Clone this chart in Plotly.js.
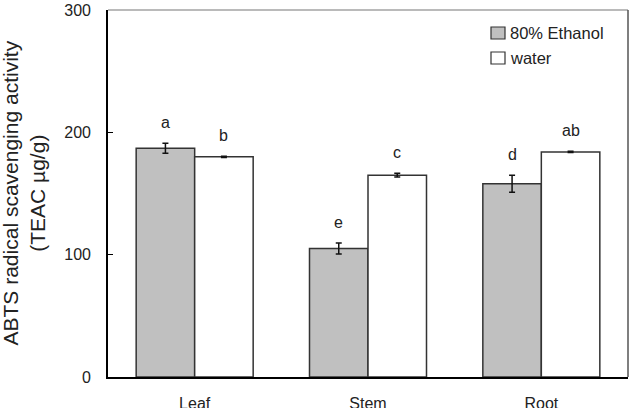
<!DOCTYPE html>
<html>
<head>
<meta charset="utf-8">
<script src="https://cdn.plot.ly/plotly-3.0.1.min.js"></script>
<style>
  html, body { margin: 0; padding: 0; background: #fff; }
  #chart { width: 632px; height: 408px; }
</style>
</head>
<body>
<div id="chart"></div>
<script>
// Plant parts analysed
const parts = ['Leaf', 'Stem', 'Root'];

// ABTS scavenging activity, TEAC µg/g (mean and error)
const ethanolValues = [187, 105, 158];
const ethanolErrors = [4, 4.5, 7];
const waterValues = [180, 165, 184];
const waterErrors = [0.5, 1.5, 0.5];

// Significance letters
const ethanolLetters = ['a', 'e', 'd'];
const waterLetters = ['b', 'c', 'ab'];

// Series names
const seriesNames = ['80% Ethanol', 'water'];

const FONT = 'Liberation Sans, Arial, Helvetica, sans-serif';
const TEXT = '#222222';
const ETHANOL_FILL = '#c0c0c0';
const WATER_FILL = '#ffffff';
const EDGE = '#333333';
const BARGAP = 0.325;
const HALF = (1 - BARGAP) / 4; // offset of each bar centre from its category centre

function barTrace(name, values, errors, fill) {
  return {
    type: 'bar',
    name: name,
    x: parts,
    y: values,
    marker: { color: fill, line: { color: EDGE, width: 1.5 } },
    error_y: { type: 'data', array: errors, visible: true, color: '#111', thickness: 1.5, width: 3 },
    showlegend: false,
    hoverinfo: 'x+y'
  };
}

const traces = [
  barTrace(seriesNames[0], ethanolValues, ethanolErrors, ETHANOL_FILL),
  barTrace(seriesNames[1], waterValues, waterErrors, WATER_FILL)
];

// Letters above each bar, placed at the top of its error bar
const annotations = [];
function addLetters(letters, values, errors, offset) {
  letters.forEach((t, i) => {
    annotations.push({
      x: i + offset, y: values[i] + errors[i], xref: 'x', yref: 'y',
      text: t, showarrow: false, yanchor: 'bottom', yshift: 10,
      font: { family: FONT, size: 16, color: TEXT }
    });
  });
}
addLetters(ethanolLetters, ethanolValues, ethanolErrors, -HALF);
addLetters(waterLetters, waterValues, waterErrors, HALF);

// Plot area in pixels, used to place the legend and the frame
const PLOT_L = 108, PLOT_W = 520, PLOT_T = 10, PLOT_H = 367;
const px = v => (v - PLOT_L) / PLOT_W;
const py = v => (PLOT_T + PLOT_H - v) / PLOT_H;

// Legend: swatch + label for each series, in the upper right corner
const legendFills = [ETHANOL_FILL, WATER_FILL];
const shapes = [];
seriesNames.forEach((name, k) => {
  const yc = 33 + k * 25; // row centre, px from the top of the figure
  shapes.push({
    type: 'rect', xref: 'paper', yref: 'paper',
    x0: px(491), x1: px(505), y0: py(yc + 6), y1: py(yc - 6),
    fillcolor: legendFills[k], line: { color: EDGE, width: 1.2 }
  });
  annotations.push({
    xref: 'paper', yref: 'paper', x: px(508), y: py(yc),
    xanchor: 'left', yanchor: 'middle', showarrow: false,
    text: name, font: { family: FONT, size: 16.5, color: TEXT }
  });
});

// Top and right edges of the frame, lighter than the axes
shapes.push({ type: 'line', xref: 'paper', yref: 'paper', x0: 0, x1: 1, y0: 1, y1: 1,
  line: { color: '#777', width: 1.2 } });
shapes.push({ type: 'line', xref: 'paper', yref: 'paper', x0: 1, x1: 1, y0: 0, y1: 1,
  line: { color: '#555', width: 1.5 } });

// Y-axis title, two lines, rotated
annotations.push({
  xref: 'paper', yref: 'paper', x: px(23), y: 0.5,
  xanchor: 'center', yanchor: 'middle', textangle: -90, showarrow: false,
  text: 'ABTS radical scavenging activity<br>(TEAC µg/g)',
  font: { family: FONT, size: 21, color: TEXT }
});

const layout = {
  width: 632,
  height: 408,
  margin: { l: PLOT_L, r: 632 - PLOT_L - PLOT_W, t: PLOT_T, b: 408 - PLOT_T - PLOT_H, pad: 0 },
  paper_bgcolor: '#ffffff',
  plot_bgcolor: '#ffffff',
  font: { family: FONT, size: 16, color: TEXT },
  barmode: 'group',
  bargap: BARGAP,
  bargroupgap: 0,
  showlegend: false,
  xaxis: {
    type: 'category',
    range: [-0.5, 2.5],
    showline: true, linecolor: '#000', linewidth: 1.8,
    ticks: '', showgrid: false, zeroline: false,
    ticklabelstandoff: 11,
    tickfont: { family: FONT, size: 16, color: TEXT }
  },
  yaxis: {
    range: [0, 300],
    tickvals: [0, 100, 200, 300],
    showline: true, linecolor: '#000', linewidth: 1.8,
    ticks: 'inside', ticklen: 5, tickwidth: 1, tickcolor: '#000',
    showgrid: false, zeroline: false,
    ticklabelstandoff: 12,
    tickfont: { family: FONT, size: 16, color: TEXT }
  },
  shapes: shapes,
  annotations: annotations
};

Plotly.newPlot('chart', traces, layout, { displayModeBar: false, staticPlot: true });
</script>
</body>
</html>
